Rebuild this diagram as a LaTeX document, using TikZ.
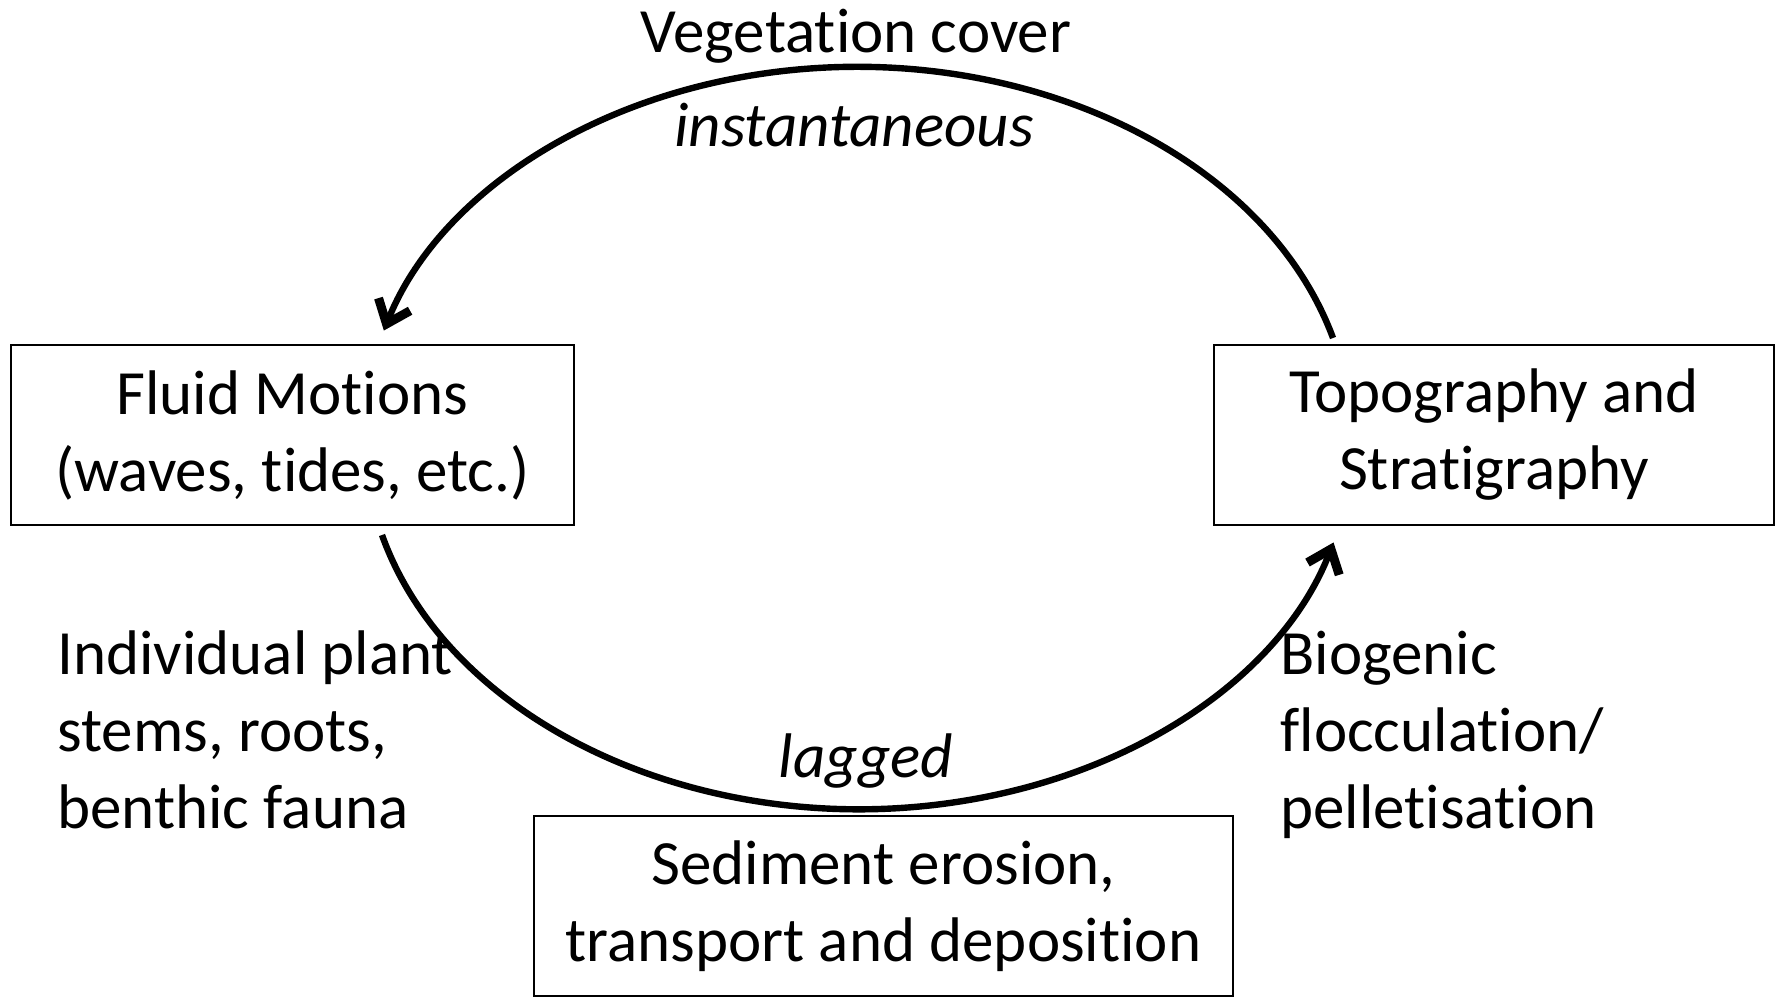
\documentclass[tikz,border=0pt]{standalone}
\usepackage{fontspec}
\setmainfont{Carlito}[Ligatures=NoCommon]
\usetikzlibrary{arrows.meta}
\newcommand\dfont{\fontsize{31.5}{38.5}\selectfont}
\begin{document}
\begin{tikzpicture}[x=0.5pt,y=0.5pt,
  font=\dfont,
  box/.style={draw, line width=1pt, minimum width=#1, minimum height=90pt, inner sep=0pt, align=center},
  lbl/.style={anchor=base west, align=left, inner sep=0pt},
  txt/.style={anchor=base, inner sep=0pt},
  cyc/.style={line width=3.2pt, -{Straight Barb[length=10.5pt,width=17pt,line width=4.5pt]}}]
\useasboundingbox (0,0) rectangle (1783,997);
\node[box=281.5pt] (fluid) at (292.5,562) {Fluid Motions\\(waves, tides, etc.)};
\node[box=280pt] (topo) at (1494,562) {Topography and\\Stratigraphy};
\node[box=349.5pt] (sed) at (883.5,91) {Sediment erosion,\\transport and deposition};
\node[txt] (veg) at (856,944) {Vegetation cover};
\node[txt] (inst) at (854,850) {\itshape instantaneous};
\node[txt] (lag) at (866,220) {\itshape lagged};
\node[lbl] (plant) at (57,169) {Individual plant\\stems, roots,\\benthic fauna};
\node[lbl] (bio) at (1280,169) {Biogenic\\flocculation/\\pelletisation};
\draw[cyc] ([xshift=60pt,yshift=3pt]topo.north west) arc[start angle=15.5, end angle=163.3, x radius=247pt, y radius=185pt];
\draw[cyc] ([xshift=186pt,yshift=-4.5pt]fluid.south west) arc[start angle=195, end angle=343.8, x radius=247pt, y radius=185pt];
\end{tikzpicture}
\end{document}
